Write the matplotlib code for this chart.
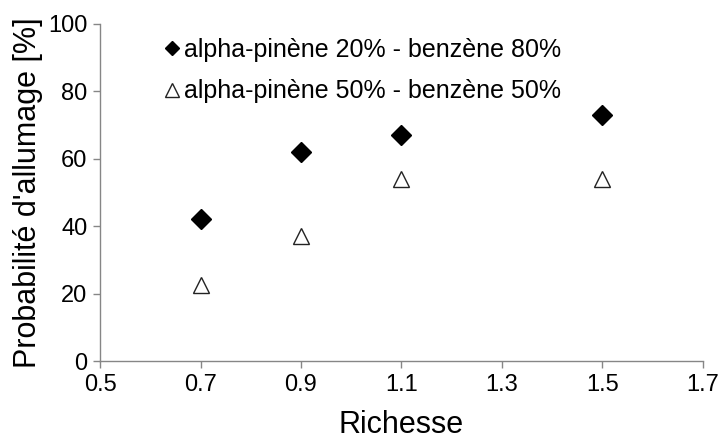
import matplotlib
matplotlib.use("Agg")
import matplotlib.pyplot as plt

richesse = [0.7, 0.9, 1.1, 1.5]
prob_20_80 = [42, 62, 67, 73]
prob_50_50 = [22.5, 37, 54, 54]
labels = ["alpha-pinène 20% - benzène 80%", "alpha-pinène 50% - benzène 50%"]
x_ticks = [0.5, 0.7, 0.9, 1.1, 1.3, 1.5, 1.7]
y_ticks = [0, 20, 40, 60, 80, 100]

plt.rcParams["font.family"] = ["Liberation Sans", "DejaVu Sans"]

fig = plt.figure(figsize=(7.2, 4.42), dpi=100)
ax = fig.add_axes([0.139, 0.183, 0.837, 0.763])

ax.plot(richesse, prob_20_80, linestyle="none", marker="D", markersize=10,
        color="black", label=labels[0])
ax.plot(richesse, prob_50_50, linestyle="none", marker="^", markersize=12,
        markerfacecolor="white", markeredgecolor="#222222", markeredgewidth=1,
        label=labels[1])

ax.set_xlim(0.5, 1.7)
ax.set_ylim(0, 100)
ax.set_xticks(x_ticks)
ax.set_xticklabels([f"{v:.1f}" for v in x_ticks])
ax.set_yticks(y_ticks)

axis_grey = "#868686"
for side in ["top", "right"]:
    ax.spines[side].set_visible(False)
for side in ["left", "bottom"]:
    ax.spines[side].set_color(axis_grey)
    ax.spines[side].set_linewidth(1)
ax.tick_params(direction="out", length=5, width=1, color=axis_grey,
               labelsize=17, labelcolor="black", pad=4)

ax.set_xlabel("Richesse", fontsize=22, labelpad=10)
ax.set_ylabel("Probabilité d'allumage [%]", fontsize=22, labelpad=4)

leg = ax.legend(loc="upper left", bbox_to_anchor=(0.065, 1.025), frameon=False,
                fontsize=18, handlelength=0.8, handletextpad=0.1,
                labelspacing=0.7)
leg.legend_handles[0].set_markersize(7.5)
leg.legend_handles[1].set_markersize(10)

fig.savefig("out.png", dpi=100)
